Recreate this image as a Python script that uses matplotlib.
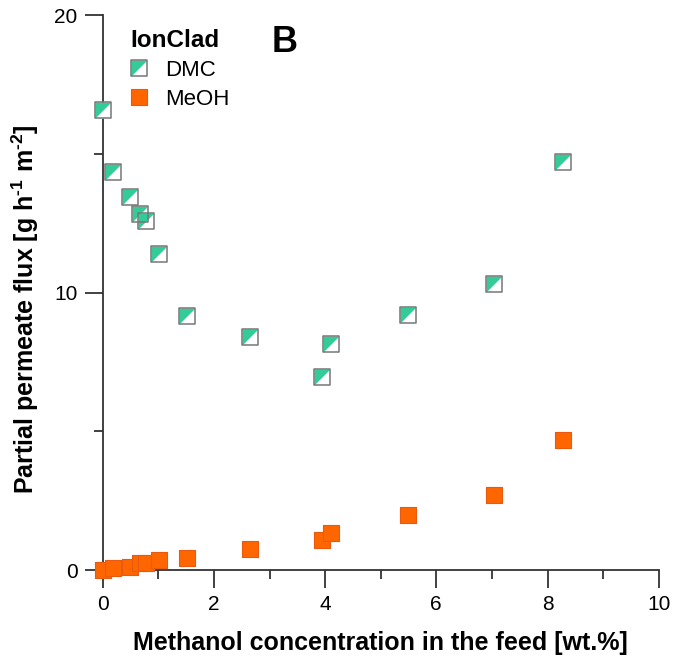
import matplotlib
matplotlib.use("Agg")
import matplotlib.pyplot as plt
from matplotlib.path import Path
from matplotlib.lines import Line2D
from matplotlib.legend_handler import HandlerTuple
from matplotlib.ticker import MultipleLocator

# Data
methanol_feed = [0.0, 0.19, 0.49, 0.67, 0.77, 1.02, 1.51, 2.65, 3.94, 4.10, 5.50, 7.03, 8.28]
flux_dmc = [16.6, 14.35, 13.45, 12.85, 12.6, 11.4, 9.15, 8.4, 6.95, 8.15, 9.2, 10.3, 14.7]
flux_meoh = [0.0, 0.06, 0.12, 0.24, 0.26, 0.36, 0.42, 0.76, 1.08, 1.35, 1.98, 2.70, 4.69]
x_ticks = [0, 2, 4, 6, 8, 10]
y_ticks = [0, 10, 20]

teal = "#33cc99"
orange = "#ff6600"

plt.rcParams["font.family"] = ["Liberation Sans", "DejaVu Sans"]
plt.rcParams["mathtext.fontset"] = "custom"
plt.rcParams["mathtext.rm"] = "Liberation Sans:bold"
plt.rcParams["mathtext.default"] = "rm"

# marker shapes: full square and upper-left triangle (diagonal split)
square = Path([(-1, -1), (1, -1), (1, 1), (-1, 1), (-1, -1)],
              [Path.MOVETO, Path.LINETO, Path.LINETO, Path.LINETO, Path.CLOSEPOLY])
tri = Path([(-1, -1), (-1, 1), (1, 1), (-1, -1)],
           [Path.MOVETO, Path.LINETO, Path.LINETO, Path.CLOSEPOLY])

fig = plt.figure(figsize=(6.74, 6.57), dpi=100)
ax = fig.add_axes([102.7 / 674, 1 - 570 / 657, 556 / 674, (570 - 15.4) / 657])

ms = 12
# DMC: white square, teal upper-left half, grey outline
ax.plot(methanol_feed, flux_dmc, ls="none", marker=square, ms=ms, mfc="white",
        mec="none", zorder=3, clip_on=False)
ax.plot(methanol_feed, flux_dmc, ls="none", marker=tri, ms=ms, mfc=teal,
        mec="none", zorder=4, clip_on=False)
ax.plot(methanol_feed, flux_dmc, ls="none", marker=square, ms=ms, mfc="none",
        mec="#777777", mew=1.1, zorder=5, clip_on=False)
# MeOH
ax.plot(methanol_feed, flux_meoh, ls="none", marker=square, ms=ms, mfc=orange,
        mec="#e85a10", mew=0.8, zorder=6, clip_on=False)

ax.set_xlim(0, 10)
ax.set_ylim(0, 20)
ax.set_xticks(x_ticks)
ax.set_yticks(y_ticks)
ax.xaxis.set_minor_locator(MultipleLocator(1))
ax.yaxis.set_minor_locator(MultipleLocator(5))

for s in ["top", "right"]:
    ax.spines[s].set_visible(False)
for s in ["left", "bottom"]:
    ax.spines[s].set_linewidth(1.3)
    ax.spines[s].set_color("#333333")

ax.tick_params(which="major", length=13, width=1.3, color="#333333",
               labelsize=15, pad=5, direction="out")
ax.tick_params(which="minor", length=6.5, width=1.3, color="#333333", direction="out")

ax.set_xlabel("Methanol concentration in the feed [wt.%]", fontsize=18,
              fontweight="bold", labelpad=12)
ax.set_ylabel(r"Partial permeate flux [g h$^{\text{-1}}$ m$^{\text{-2}}$]", fontsize=18,
              fontweight="bold")
ax.yaxis.set_label_coords(-0.111, 0.47)

fig.text(285 / 674, 1 - 43 / 657, "B", fontsize=26, fontweight="bold",
         ha="center", va="center")

# legend with overlaid half-filled marker
h_dmc = (Line2D([], [], ls="none", marker=square, ms=ms, mfc="white", mec="none"),
         Line2D([], [], ls="none", marker=tri, ms=ms, mfc=teal, mec="none"),
         Line2D([], [], ls="none", marker=square, ms=ms, mfc="none", mec="#777777", mew=1.1))
h_meoh = Line2D([], [], ls="none", marker=square, ms=ms, mfc=orange, mec="#e85a10", mew=0.8)
leg = ax.legend([h_dmc, h_meoh], ["DMC", "MeOH"], title="IonClad",
                handler_map={tuple: HandlerTuple(ndivide=1)},
                loc="upper left", bbox_to_anchor=(130 / 674, 1 - 29 / 657),
                bbox_transform=fig.transFigure, frameon=False, fontsize=16,
                title_fontproperties={"weight": "bold", "size": 17.5},
                handlelength=0.77, handletextpad=0.8, labelspacing=0.35,
                borderpad=0, borderaxespad=0)
leg._legend_box.align = "left"

fig.savefig("out.png", dpi=100)
